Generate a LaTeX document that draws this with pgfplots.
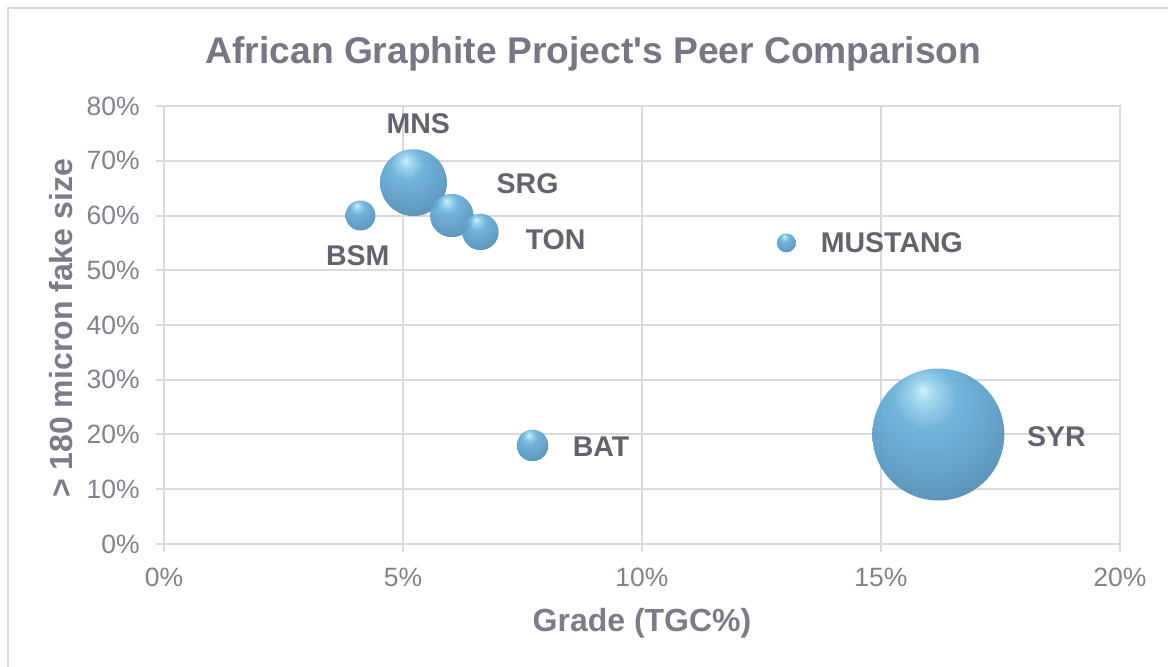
\documentclass[border=0pt]{standalone}
\usepackage{fontspec}
\setmainfont{Liberation Sans}
\usepackage{pgfplots}
\usepackage{pgfplotstable}
\pgfplotsset{compat=1.18}

\definecolor{gridc}{HTML}{D9D9DE}
\definecolor{bordc}{HTML}{D9D9D9}
\definecolor{titlec}{HTML}{757882}
\definecolor{axlabc}{HTML}{7A7D89}
\definecolor{tickc}{HTML}{80838F}
\definecolor{labc}{HTML}{62636E}

\definecolor{bubHi}{HTML}{C9F3FF}
\definecolor{bubA}{HTML}{9AD5EE}
\definecolor{bubB}{HTML}{68AED7}
\definecolor{bubC}{HTML}{5899C3}
\definecolor{bubD}{HTML}{4E84AA}
\definecolor{bubE}{HTML}{436B89}
\definecolor{bubF}{HTML}{3A5A72}

\pgfdeclareradialshading{bubbleshade}{\pgfpoint{-6bp}{17bp}}{%
  color(0bp)=(bubHi);
  color(4bp)=(bubA);
  color(12bp)=(bubB);
  color(26bp)=(bubC);
  color(38bp)=(bubD);
  color(48bp)=(bubE);
  color(58bp)=(bubF);
  color(70bp)=(bubF)}

\pgfdeclareplotmark{bubble}{%
  \pgfpathcircle{\pgfpointorigin}{\pgfplotmarksize}%
  \pgfshadepath{bubbleshade}{0}%
  \pgfusepath{}%
}

% x, y (percent), r = bubble radius (pt), dx/dy = label offset (pt)
\pgfplotstableread{
x     y   r     dx     dy    label
16.2  20  33    59     -0.9  SYR
5.22  66  16.7  2.35   29.5  MNS
6.02  60  10.85 37.9   16    SRG
6.62  57  9.1   37.6   -3.85 TON
7.71  18  7.9   34.25  -0.85 BAT
4.11  60  7.5   -1.35  -20   BSM
13.02 55  4.75  52.75  0     MUSTANG
}\bubbledata

\begin{document}
\begin{tikzpicture}
\useasboundingbox (0,0) rectangle (584pt,-333.5pt);
\draw[bordc, line width=0.75pt] (4pt,-340pt) -- (4pt,-4pt) -- (590pt,-4pt);

\node[anchor=base, text=titlec, font=\fontsize{18.6}{22}\selectfont\bfseries]
  at (296.75pt,-32pt) {African Graphite Project\textquotesingle s Peer Comparison};
\node[anchor=base, text=axlabc, font=\fontsize{16}{19}\selectfont\bfseries]
  at (321pt,-315.75pt) {Grade (TGC\%)};
\node[anchor=base, rotate=90, text=axlabc, font=\fontsize{16}{19}\selectfont\bfseries]
  at (36pt,-164.25pt) {> 180 micron fake size};

\begin{axis}[
  at={(82pt,-272pt)}, anchor=south west,
  scale only axis, width=478pt, height=219pt,
  xmin=0, xmax=20, ymin=0, ymax=80,
  xtick={0,5,10,15,20},
  xticklabels={0\%,5\%,10\%,15\%,20\%},
  ytick={0,10,20,30,40,50,60,70,80},
  yticklabels={0\%,10\%,20\%,30\%,40\%,50\%,60\%,70\%,80\%},
  grid=major,
  grid style={line width=1pt, color=gridc},
  axis line style={line width=1pt, color=gridc},
  tick style={line width=1pt, color=gridc},
  tick align=outside, major tick length=4pt,
  xtick pos=bottom, ytick pos=left,
  ticklabel style={font=\fontsize{13.25}{15}\selectfont, text=tickc},
  xticklabel style={anchor=north, inner sep=0pt, yshift=-8pt},
  yticklabel style={anchor=east, inner sep=0pt, xshift=-8pt},
  clip=false,
]
\addplot[scatter, only marks, mark=bubble,
  mark options={fill opacity=0.92},
  visualization depends on={\thisrow{r} \as \perpointmarksize},
  scatter/@pre marker code/.append style={/tikz/mark size=\perpointmarksize}]
  table[x=x, y=y] {\bubbledata};

\addplot[draw=none, mark=none,
  nodes near coords,
  point meta=explicit symbolic,
  visualization depends on={\thisrow{dx} \as \labdx},
  visualization depends on={\thisrow{dy} \as \labdy},
  every node near coord/.append style={anchor=center, inner sep=0pt,
    xshift=\labdx pt, yshift=\labdy pt, text=labc,
    font=\fontsize{14.25}{17}\selectfont\bfseries}]
  table[x=x, y=y, meta=label] {\bubbledata};
\end{axis}
\end{tikzpicture}
\end{document}
